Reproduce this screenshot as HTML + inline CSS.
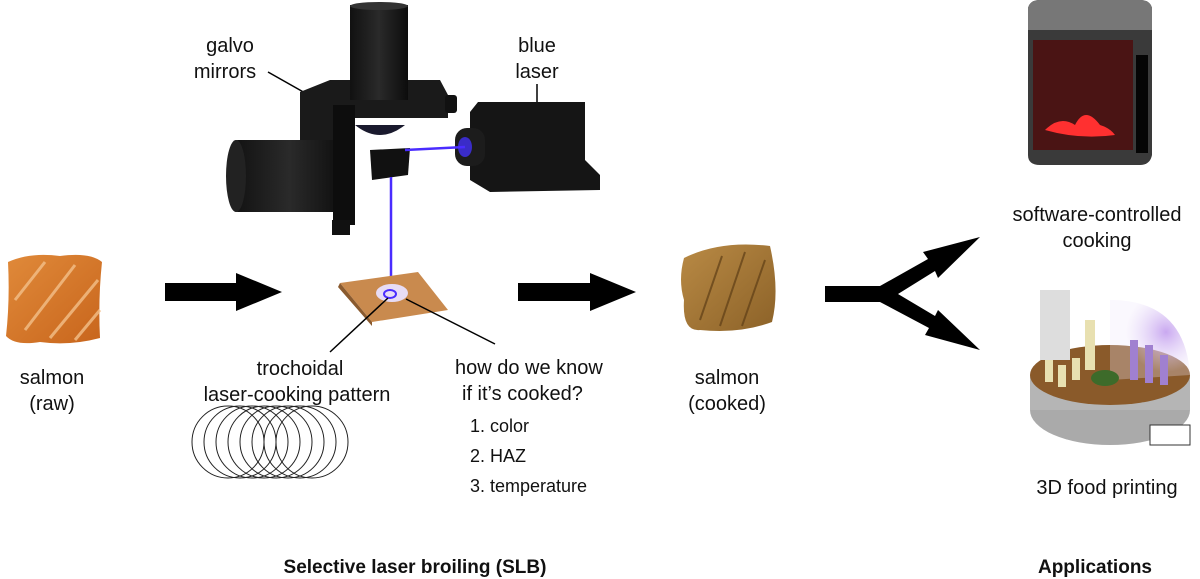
<!DOCTYPE html>
<html><head><style>
html,body{margin:0;padding:0;background:#fff;width:1200px;height:579px;overflow:hidden}
svg text{font-family:"Liberation Sans",Arial,sans-serif;fill:#111}
</style></head><body>
<svg width="1200" height="579" viewBox="0 0 1200 579" xmlns="http://www.w3.org/2000/svg">
<defs>
<linearGradient id="cyl" x1="0" x2="1"><stop offset="0" stop-color="#111"/><stop offset="0.5" stop-color="#2a2a2a"/><stop offset="1" stop-color="#0c0c0c"/></linearGradient>
<linearGradient id="salm" x1="0" y1="0" x2="1" y2="1"><stop offset="0" stop-color="#e08a3a"/><stop offset="1" stop-color="#c8651c"/></linearGradient>
<linearGradient id="ck" x1="0" y1="0" x2="1" y2="1"><stop offset="0" stop-color="#b98a45"/><stop offset="1" stop-color="#8c6228"/></linearGradient>
<radialGradient id="dome" cx="0.7" cy="0.4"><stop offset="0" stop-color="#c9a8f0"/><stop offset="1" stop-color="#eee6fa" stop-opacity="0.3"/></radialGradient>
</defs>

<path d="M8 262 Q30 252 60 256 Q90 252 102 262 Q98 300 100 338 Q70 346 40 342 Q15 346 6 336 Q10 300 8 262Z" fill="url(#salm)"/>
<g stroke="#f3c08a" stroke-width="3" fill="none" opacity="0.8">
<path d="M15 300 L45 262"/><path d="M25 330 L75 265"/><path d="M50 338 L98 280"/><path d="M75 340 L100 310"/></g>
<text x="52" y="384" font-size="20" text-anchor="middle">salmon</text>
<text x="52" y="410" font-size="20" text-anchor="middle">(raw)</text>

<path d="M165 283 H236 V273 L282 292 L236 311 V301 H165Z" fill="#000"/>
<path d="M518 283 H590 V273 L636 292 L590 311 V301 H518Z" fill="#000"/>

<text x="230" y="52" font-size="20" text-anchor="middle">galvo</text>
<text x="225" y="78" font-size="20" text-anchor="middle">mirrors</text>
<line x1="268" y1="72" x2="314" y2="98" stroke="#000" stroke-width="1.5"/>
<text x="537" y="52" font-size="20" text-anchor="middle">blue</text>
<text x="537" y="78" font-size="20" text-anchor="middle">laser</text>
<line x1="537" y1="84" x2="537" y2="115" stroke="#000" stroke-width="1.5"/>

<polygon points="300,92 330,80 440,80 448,95 448,118 355,118 355,140 300,140" fill="#1a1a1a"/>
<rect x="350" y="5" width="58" height="95" fill="url(#cyl)"/>
<ellipse cx="379" cy="6" rx="29" ry="4" fill="#333"/>
<rect x="232" y="140" width="115" height="72" rx="6" fill="url(#cyl)"/>
<ellipse cx="236" cy="176" rx="10" ry="36" fill="#222"/>
<rect x="333" y="105" width="22" height="120" fill="#0d0d0d"/>
<rect x="332" y="220" width="18" height="15" fill="#111"/>
<rect x="445" y="95" width="12" height="18" rx="3" fill="#111"/>
<path d="M355 125 Q380 145 405 125 Z" fill="#1a1a2e"/>
<polygon points="370,150 410,148 408,175 372,180" fill="#111"/>
<polygon points="470,112 478,102 585,102 585,160 600,175 600,190 490,192 470,180" fill="#151515"/>
<rect x="455" y="128" width="30" height="38" rx="12" fill="#1c1c1c"/>
<ellipse cx="465" cy="147" rx="7" ry="10" fill="#3a2cc8"/>
<line x1="405" y1="150" x2="465" y2="147" stroke="#4a2cff" stroke-width="2.5"/>
<line x1="391" y1="177" x2="391" y2="294" stroke="#4a2cff" stroke-width="2.5"/>
<polygon points="340,283 418,272 448,310 372,322" fill="#c98a4e"/>
<polygon points="340,283 372,322 372,326 338,287" fill="#8a5a2e"/>
<ellipse cx="392" cy="293" rx="16" ry="9" fill="#e7dcf5"/>
<ellipse cx="390" cy="294" rx="6" ry="4" fill="none" stroke="#4a2cff" stroke-width="2"/>

<line x1="388" y1="298" x2="330" y2="352" stroke="#000" stroke-width="1.5"/>
<line x1="406" y1="299" x2="495" y2="344" stroke="#000" stroke-width="1.5"/>
<text x="300" y="375" font-size="20" text-anchor="middle">trochoidal</text>
<text x="297" y="401" font-size="20" text-anchor="middle">laser-cooking pattern</text>
<text x="455" y="374" font-size="20">how do we know</text>
<text x="462" y="400" font-size="20">if it’s cooked?</text>
<text x="470" y="432" font-size="18">1. color</text>
<text x="470" y="462" font-size="18">2. HAZ</text>
<text x="470" y="492" font-size="18">3. temperature</text>

<g fill="none" stroke="#222" stroke-width="1">
<circle cx="228" cy="442" r="36"/><circle cx="240" cy="442" r="36"/><circle cx="252" cy="442" r="36"/><circle cx="264" cy="442" r="36"/><circle cx="276" cy="442" r="36"/><circle cx="288" cy="442" r="36"/><circle cx="300" cy="442" r="36"/><circle cx="312" cy="442" r="36"/></g>

<path d="M684 258 Q720 240 770 246 Q780 290 772 322 Q740 334 700 330 Q682 332 684 300 Q678 280 684 258Z" fill="url(#ck)"/>
<g stroke="#5e3e16" stroke-width="2" fill="none" opacity="0.7">
<path d="M700 320 L722 256"/><path d="M720 326 L745 252"/><path d="M742 326 L765 260"/></g>
<text x="727" y="384" font-size="20" text-anchor="middle">salmon</text>
<text x="727" y="410" font-size="20" text-anchor="middle">(cooked)</text>

<path d="M825 286 H880 L928 259 L923 252 L980 237 L938 278 L935 271 L898 294 L935 316 L938 310 L980 350 L925 335 L929 328 L880 302 H825 Z" fill="#000"/>

<path d="M1028 8 Q1030 0 1040 0 H1140 Q1150 0 1152 8 V155 Q1150 165 1140 165 H1040 Q1028 165 1028 155Z" fill="#3a3a3a"/>
<path d="M1028 8 Q1030 0 1040 0 H1140 Q1150 0 1152 8 V30 H1028Z" fill="#777"/>
<rect x="1033" y="40" width="100" height="110" fill="#4a1414"/>
<path d="M1045 130 Q1060 115 1075 125 Q1085 105 1100 125 Q1110 128 1115 135 Q1080 140 1045 130Z" fill="#ff3030"/>
<rect x="1136" y="55" width="12" height="98" fill="#050505"/>
<text x="1097" y="221" font-size="20" text-anchor="middle">software-controlled</text>
<text x="1097" y="247" font-size="20" text-anchor="middle">cooking</text>

<ellipse cx="1110" cy="410" rx="80" ry="35" fill="#aaa"/>
<rect x="1030" y="375" width="160" height="35" fill="#b5b5b5"/>
<ellipse cx="1110" cy="375" rx="80" ry="30" fill="#8a5a2a"/>
<path d="M1110 300 Q1185 300 1190 375 L1110 380Z" fill="url(#dome)"/>
<rect x="1040" y="290" width="30" height="70" fill="#ddd"/>
<g fill="#e8e0b0"><rect x="1045" y="360" width="8" height="22"/><rect x="1058" y="365" width="8" height="22"/><rect x="1072" y="358" width="8" height="22"/><rect x="1085" y="320" width="10" height="50"/></g>
<g fill="#a080d0"><rect x="1130" y="340" width="8" height="40"/><rect x="1145" y="345" width="8" height="38"/><rect x="1160" y="355" width="8" height="30"/></g>
<ellipse cx="1105" cy="378" rx="14" ry="8" fill="#3d6b2a"/>
<rect x="1150" y="425" width="40" height="20" fill="#fff" stroke="#333" stroke-width="1"/>
<text x="1107" y="494" font-size="20" text-anchor="middle">3D food printing</text>

<text x="415" y="573" font-size="19" font-weight="bold" text-anchor="middle">Selective laser broiling (SLB)</text>
<text x="1095" y="573" font-size="19" font-weight="bold" text-anchor="middle">Applications</text>
</svg>
</body></html>
